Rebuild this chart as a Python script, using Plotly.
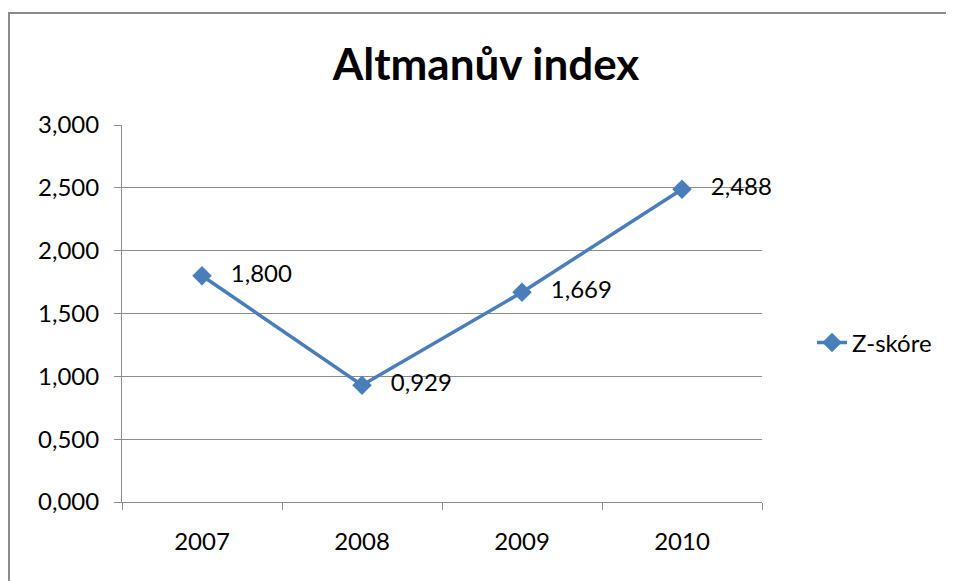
import plotly.graph_objects as go

years = ["2007", "2008", "2009", "2010"]
z_score = [1.800, 0.929, 1.669, 2.488]
labels = ["1,800", "0,929", "1,669", "2,488"]
series_name = "Z-skóre"
title_text = "Altmanův index"

FONT = "Lato, Open Sans, sans-serif"
BLUE = "#4A7EBB"
GRID = "#8C8C8C"

# page body has an 8px margin; figure coordinates are offset by it
OFF = 8
W, H = 954 - OFF, 581 - OFF
L, T = 122 - OFF, 125 - OFF
pw, ph = 640, 377
R, B = W - L - pw, H - T - ph

def px_x(x):
    return (x - OFF - L) / pw

def px_y(y):
    return (T + ph - (y - OFF)) / ph

NB = "\u00a0\u00a0\u00a0"

fig = go.Figure()
fig.add_trace(go.Scatter(
    x=years, y=z_score, name=series_name,
    mode="lines+markers+text",
    text=[NB + s for s in labels], textposition="middle right",
    textfont=dict(family=FONT, size=24, color="#000000"),
    line=dict(color=BLUE, width=3.5),
    marker=dict(symbol="diamond", size=15, color=BLUE),
    cliponaxis=False,
))

fig.update_layout(
    width=W, height=H,
    margin=dict(l=L, r=R, t=T, b=B),
    paper_bgcolor="white", plot_bgcolor="white",
    separators=",.",
    title=dict(text="<b>" + title_text + "</b>", x=(486 - OFF) / W, xref="container",
               xanchor="center", y=1 - (65 - OFF) / H, yref="container", yanchor="middle",
               font=dict(family=FONT, size=44, color="#000000")),
    showlegend=True,
    legend=dict(x=px_x(812), y=px_y(343), xanchor="left", yanchor="middle",
                font=dict(family=FONT, size=24, color="#000000"),
                bgcolor="rgba(0,0,0,0)"),
    xaxis=dict(type="category", range=[-0.5, 3.5], tickson="boundaries",
               ticks="outside", ticklen=7, tickcolor=GRID, tickwidth=1,
               showline=True, linecolor=GRID, linewidth=1, showgrid=False,
               tickfont=dict(family=FONT, size=24, color="#000000"),
               ticklabelstandoff=18, fixedrange=True),
    yaxis=dict(range=[0, 3], tickvals=[0, 0.5, 1, 1.5, 2, 2.5, 3], tickformat=".3f",
               ticks="outside", ticklen=7, tickcolor=GRID, tickwidth=1,
               showline=True, linecolor=GRID, linewidth=1,
               showgrid=True, gridcolor=GRID, gridwidth=1, zeroline=False,
               tickfont=dict(family=FONT, size=24, color="#000000"),
               ticklabelstandoff=10, fixedrange=True),
)

fig.add_shape(type="rect", xref="paper", yref="paper",
              x0=px_x(9), x1=px_x(951), y0=px_y(600), y1=px_y(13),
              line=dict(color="#8A8A8A", width=2), fillcolor="rgba(0,0,0,0)", layer="below")

fig.write_html("out.html")
